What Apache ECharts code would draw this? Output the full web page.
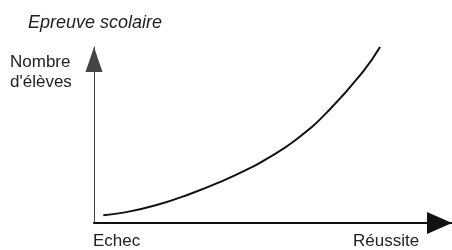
<!DOCTYPE html>
<html>
<head>
<meta charset="utf-8">
<script src="https://cdn.jsdelivr.net/npm/echarts@6/dist/echarts.min.js"></script>
<style>
  html, body { margin: 0; padding: 0; background: #fff; }
  #chart { width: 452px; height: 250px; }
</style>
</head>
<body>
<div id="chart"></div>
<script>
// curve (x: echec -> réussite, y: nombre d'élèves)
var curveX = [2.6, 8.2, 17.5, 26.8, 36.1, 43.1, 47.3, 56.6, 65.9, 75.2, 79.9];
var curveY = [4.4, 5.9, 10.2, 16.5, 24.1, 30.8, 35.3, 47.6, 64.6, 86.2, 100.0];

var titleText = 'Epreuve scolaire';
var yName = ['Nombre', "d'élèves"];
var xEnds = ['Echec', 'Réussite'];

var points = [];
for (var i = 0; i < curveX.length; i++) {
  points.push([curveX[i], curveY[i]]);
}

var textFont = '"Liberation Sans", Arial, sans-serif';

var option = {
  animation: false,
  backgroundColor: '#fff',
  title: {
    text: titleText,
    left: 23,
    top: 9,
    textStyle: {
      fontFamily: textFont,
      fontStyle: 'italic',
      fontWeight: 'normal',
      fontSize: 18,
      color: '#222'
    }
  },
  grid: {
    left: 94,
    right: 0,
    top: 47,
    bottom: 27
  },
  xAxis: {
    type: 'value',
    min: 0,
    max: 100,
    axisLine: {
      show: true,
      symbol: ['none', 'triangle'],
      symbolSize: [22, 25],
      symbolOffset: [0, -12.5],
      lineStyle: { color: '#111', width: 2 }
    },
    axisTick: { show: false },
    axisLabel: { show: false },
    splitLine: { show: false }
  },
  yAxis: {
    type: 'value',
    min: 0,
    max: 100,
    axisLine: {
      show: true,
      symbol: ['none', 'triangle'],
      symbolSize: [17, 25],
      symbolOffset: [0, -12.5],
      lineStyle: { color: '#444', width: 1 }
    },
    axisTick: { show: false },
    axisLabel: { show: false },
    splitLine: { show: false }
  },
  graphic: [
    {
      type: 'text',
      left: 10,
      top: 52,
      style: {
        text: yName.join('\n'),
        font: '17px ' + textFont,
        fill: '#222',
        lineHeight: 20,
        align: 'left'
      }
    },
    {
      type: 'text',
      left: 93,
      top: 233,
      style: {
        text: xEnds[0],
        font: '17px ' + textFont,
        fill: '#222'
      }
    },
    {
      type: 'text',
      left: 353,
      top: 233,
      style: {
        text: xEnds[1],
        font: '17px ' + textFont,
        fill: '#222'
      }
    }
  ],
  series: [
    {
      type: 'line',
      data: points,
      smooth: true,
      symbol: 'none',
      clip: false,
      lineStyle: { color: '#111', width: 2 }
    }
  ]
};

echarts.init(document.getElementById('chart')).setOption(option);
</script>
</body>
</html>
